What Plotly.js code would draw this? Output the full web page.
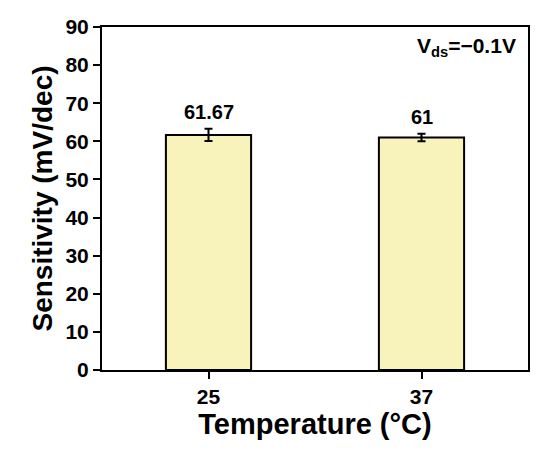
<!DOCTYPE html>
<html>
<head>
<meta charset="utf-8">
<script src="https://cdn.plot.ly/plotly-3.0.1.min.js"></script>
<style>
  html, body { margin: 0; padding: 0; background: #fff; }
  #chart { width: 550px; height: 454px; }
</style>
</head>
<body>
<div id="chart"></div>
<script>
// sensitivity vs temperature, bar + error bars
const temps = ["25", "37"];
const sensitivity = [61.67, 61];
const errors = [1.6, 1.0];
const labels = ["61.67", "61"];
const yTicks = [0, 10, 20, 30, 40, 50, 60, 70, 80, 90];

const FONT = "Liberation Sans, Arial, sans-serif";

const trace = {
    type: "bar",
    x: temps,
    y: sensitivity,
    width: 0.4,
    marker: { color: "#F7F3BA", line: { color: "#000", width: 2 } },
    error_y: { type: "data", array: errors, visible: true, color: "#000", thickness: 2, width: 4 },
    hoverinfo: "x+y"
};

// value labels above each bar (x given as category index)
const annotations = temps.map((t, i) => ({
    x: i,
    y: sensitivity[i] + errors[i],
    yshift: 4,
    text: labels[i],
    showarrow: false,
    yanchor: "bottom",
    font: { family: FONT, size: 20, color: "#000", weight: "bold" }
}));

annotations.push({
    xref: "paper", yref: "paper",
    x: 0.977, y: 0.985,
    xanchor: "right", yanchor: "top",
    text: "V<sub>ds</sub>=\u22120.1V",
    showarrow: false,
    font: { family: FONT, size: 21, color: "#000", weight: "bold" }
});

const layout = {
    width: 550,
    height: 454,
    margin: { l: 102, r: 22, t: 27, b: 84 },
    paper_bgcolor: "#fff",
    plot_bgcolor: "#fff",
    font: { family: FONT, color: "#000" },
    showlegend: false,
    xaxis: {
        type: "category",
        range: [-0.5, 1.5],
        showline: true, mirror: true, linecolor: "#000", linewidth: 2,
        ticks: "outside", ticklen: 7, tickwidth: 2, tickcolor: "#000",
        tickfont: { family: FONT, size: 21, weight: "bold" },
        showgrid: false, zeroline: false,
        title: { text: "Temperature (°C)", font: { family: FONT, size: 29, weight: "bold" }, standoff: 6 }
    },
    yaxis: {
        range: [0, 90],
        tickvals: yTicks,
        showline: true, mirror: true, linecolor: "#000", linewidth: 2,
        ticks: "outside", ticklen: 7, tickwidth: 2, tickcolor: "#000",
        tickfont: { family: FONT, size: 21, weight: "bold" },
        showgrid: false, zeroline: false,
        title: { text: "Sensitivity (mV/dec)", font: { family: FONT, size: 28, weight: "bold" }, standoff: 5 }
    },
    annotations: annotations
};

Plotly.newPlot("chart", [trace], layout, { displayModeBar: false });
</script>
</body>
</html>
